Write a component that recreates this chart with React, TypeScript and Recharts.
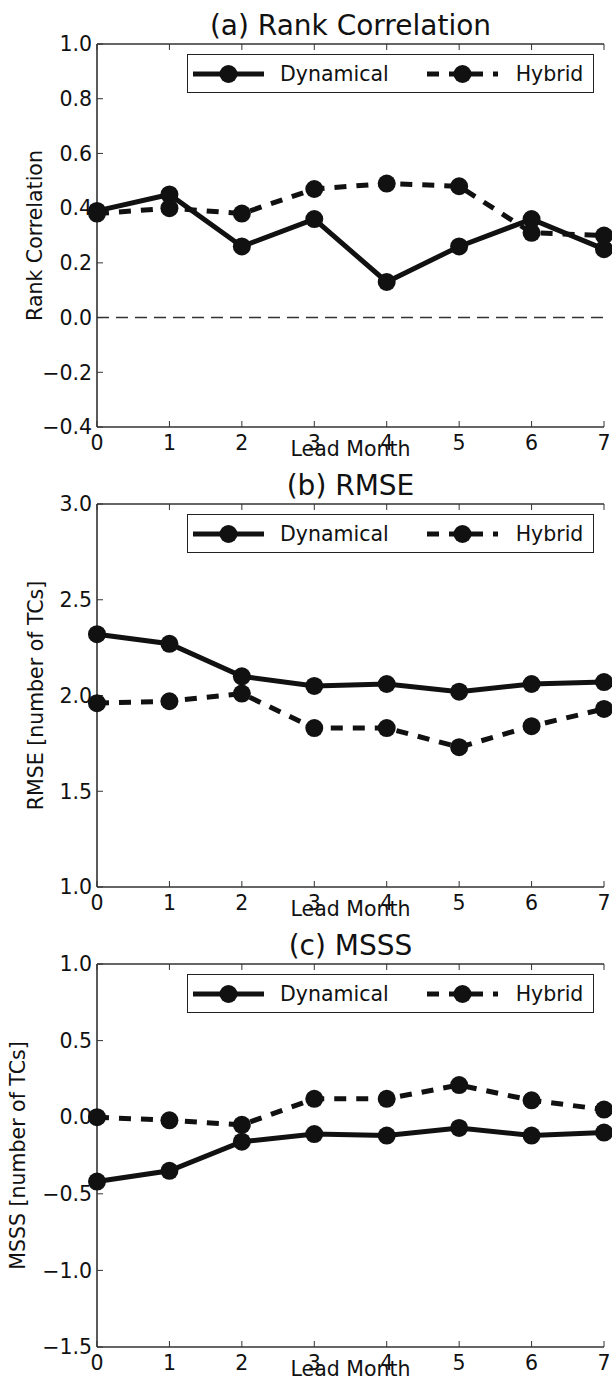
import { LineChart, Line, XAxis, YAxis, ReferenceLine, Legend } from 'recharts';

const FONT = '"DejaVu Sans", "Noto Sans", sans-serif';
const INK = '#111';

const months = [0, 1, 2, 3, 4, 5, 6, 7];

const rankDynamical = [0.39, 0.45, 0.26, 0.36, 0.13, 0.26, 0.36, 0.25];
const rankHybrid = [0.38, 0.4, 0.38, 0.47, 0.49, 0.48, 0.31, 0.3];
const rmseDynamical = [2.32, 2.27, 2.1, 2.05, 2.06, 2.02, 2.06, 2.07];
const rmseHybrid = [1.96, 1.97, 2.01, 1.83, 1.83, 1.73, 1.84, 1.93];
const msssDynamical = [-0.42, -0.35, -0.16, -0.11, -0.12, -0.07, -0.12, -0.1];
const msssHybrid = [0.0, -0.02, -0.05, 0.12, 0.12, 0.21, 0.11, 0.05];

const rankTicks = [-0.4, -0.2, 0, 0.2, 0.4, 0.6, 0.8, 1.0];
const rmseTicks = [1.0, 1.5, 2.0, 2.5, 3.0];
const msssTicks = [-1.5, -1.0, -0.5, 0, 0.5, 1.0];

const DASHED = '12 10';
const dashFor: Record<string, string | undefined> = { Dynamical: undefined, Hybrid: DASHED };

const fmt = (v: number) => v.toFixed(1).replace('-', '\u2212');
const blank = () => '';

function LegendBox(props: any) {
  const items = props.payload || [];
  return (
    <div
      style={{
        display: 'flex',
        alignItems: 'center',
        width: 407,
        height: 39,
        boxSizing: 'border-box',
        border: '1.5px solid #222',
        background: '#fff',
        fontFamily: FONT,
        fontSize: 20.5,
        color: INK,
        paddingLeft: 5,
      }}
    >
      {items.map((it: any, i: number) => (
        <div key={it.value} style={{ display: 'flex', alignItems: 'center', marginLeft: i === 0 ? 0 : 38 }}>
          <svg width={71} height={22}>
            <line x1={0} x2={71} y1={11} y2={11} stroke={INK} strokeWidth={5} strokeDasharray={dashFor[it.value]} />
            <circle cx={35.5} cy={11} r={9} fill={INK} />
          </svg>
          <span style={{ marginLeft: i === 0 ? 16 : 18 }}>{it.value}</span>
        </div>
      ))}
    </div>
  );
}

type PanelProps = {
  title: string;
  yLabel: string;
  yLabelX: number;
  dyn: number[];
  hyb: number[];
  ticks: number[];
  zeroLine?: boolean;
};

function Panel({ title, yLabel, yLabelX, dyn, hyb, ticks, zeroLine }: PanelProps) {
  const data = months.map((m, i) => ({ m, dyn: dyn[i], hyb: hyb[i] }));
  const domain = [ticks[0], ticks[ticks.length - 1]];
  const tickStyle = { fill: INK, fontSize: 20.5, fontFamily: FONT };
  const axisLine = { stroke: '#333', strokeWidth: 1.6 };
  const tickLine = { stroke: '#333', strokeWidth: 1 };
  return (
    <LineChart
      width={612}
      height={460}
      data={data}
      margin={{ top: 0, right: 8, left: 0, bottom: 0 }}
      style={{ fontFamily: FONT }}
    >
      <XAxis
        dataKey="m"
        type="number"
        domain={[0, 7]}
        ticks={months}
        height={33}
        tick={tickStyle}
        tickSize={-6}
        tickMargin={14}
        axisLine={axisLine}
        tickLine={tickLine}
        label={{ value: 'Lead Month', position: 'insideBottom', offset: 4, fill: INK, fontSize: 20.5, fontFamily: FONT }}
      />
      <XAxis
        xAxisId="top"
        orientation="top"
        dataKey="m"
        type="number"
        domain={[0, 7]}
        ticks={months}
        height={44}
        tickSize={-6}
        tickFormatter={blank}
        axisLine={axisLine}
        tickLine={tickLine}
        label={{ value: title, position: 'insideBottom', offset: 9, fill: INK, fontSize: 28, fontFamily: FONT }}
      />
      <YAxis
        type="number"
        domain={domain}
        ticks={ticks}
        width={97}
        tick={tickStyle}
        tickSize={-6}
        tickMargin={11}
        tickFormatter={fmt}
        axisLine={axisLine}
        tickLine={tickLine}
        label={{
          value: yLabel,
          angle: -90,
          position: 'insideLeft',
          offset: yLabelX,
          fill: INK,
          fontSize: 20.5,
          fontFamily: FONT,
          style: { textAnchor: 'middle' },
        }}
      />
      <YAxis
        yAxisId="right"
        orientation="right"
        type="number"
        domain={domain}
        ticks={ticks}
        width={0}
        tickSize={-6}
        tickFormatter={blank}
        axisLine={axisLine}
        tickLine={tickLine}
      />
      {zeroLine && <ReferenceLine y={0} stroke="#333" strokeWidth={1.5} strokeDasharray="12 7" />}
      <Legend
        layout="horizontal"
        verticalAlign="middle"
        align="center"
        content={<LegendBox />}
        wrapperStyle={{ position: 'absolute', top: 54, left: 187, width: 407 }}
      />
      <Line
        name="Dynamical"
        dataKey="dyn"
        stroke={INK}
        strokeWidth={5}
        dot={{ r: 9, fill: INK, stroke: INK, strokeWidth: 0 }}
        isAnimationActive={false}
      />
      <Line
        name="Hybrid"
        dataKey="hyb"
        stroke={INK}
        strokeWidth={5}
        strokeDasharray={DASHED}
        dot={{ r: 9, fill: INK, stroke: INK, strokeWidth: 0, strokeDasharray: '0' }}
        isAnimationActive={false}
      />
    </LineChart>
  );
}

export default function App() {
  return (
    <div style={{ position: 'absolute', top: 0, left: 0, width: 612, height: 1387, background: '#fff' }}>
      <Panel title="(a) Rank Correlation" yLabel="Rank Correlation" yLabelX={35} dyn={rankDynamical} hyb={rankHybrid} ticks={rankTicks} zeroLine />
      <Panel title="(b) RMSE" yLabel="RMSE [number of TCs]" yLabelX={36} dyn={rmseDynamical} hyb={rmseHybrid} ticks={rmseTicks} />
      <Panel title="(c) MSSS" yLabel="MSSS [number of TCs]" yLabelX={18} dyn={msssDynamical} hyb={msssHybrid} ticks={msssTicks} />
    </div>
  );
}
